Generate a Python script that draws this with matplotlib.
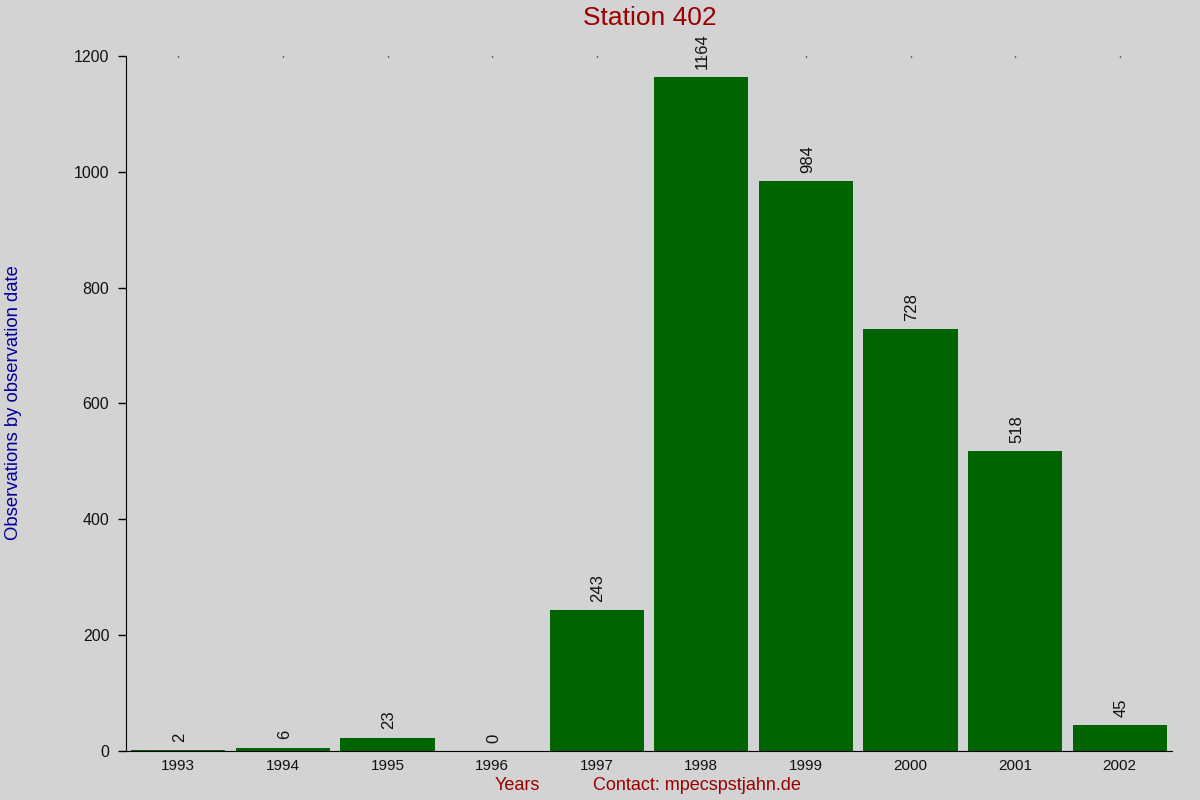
import numpy as np
import matplotlib
matplotlib.use("Agg")
from matplotlib import pyplot as plt

plt.rcParams['font.family'] = ['Liberation Sans', 'DejaVu Sans']

years = ['1993', '1994', '1995', '1996', '1997', '1998', '1999', '2000', '2001', '2002']
counts = [2, 6, 23, 0, 243, 1164, 984, 728, 518, 45]

bg = '#d3d3d3'
fig = plt.figure(figsize=(12, 8), dpi=100, facecolor=bg)
ax = fig.add_axes([0.105, 0.06125, 0.8717, 0.86875], facecolor=bg)

pos = np.arange(len(years))
bars = ax.bar(pos, counts, width=0.9, color='#006400')

# value labels, rotated, just above each bar
for b, v in zip(bars, counts):
    ax.annotate(str(v), (b.get_x() + b.get_width() / 2, v), xytext=(1, 6),
                textcoords='offset points', rotation=90, ha='center', va='bottom',
                fontsize=12, color='#111111')

ax.set_xlim(-0.5, 9.5)
ax.set_ylim(0, 1200)
ax.set_xticks(pos)
ax.set_xticklabels(years)
ax.set_yticks(np.arange(0, 1201, 200))

for s in ['top', 'right']:
    ax.spines[s].set_visible(False)
ax.tick_params(axis='y', direction='out', length=6, width=1, labelsize=11.5, pad=6, labelcolor='#111111')
ax.tick_params(axis='x', bottom=False, top=True, direction='in', length=1, width=1,
               labelsize=11, pad=6, labelcolor='#111111')

fig.text(0.5417, 0.978, 'Station 402', ha='center', va='center', fontsize=19, color='#990000')
fig.text(0.011, 0.497, 'Observations by observation date', rotation=90, ha='center', va='center',
         fontsize=13.3, color='#000099')
fig.text(0.431, 0.0175, 'Years', ha='center', va='center', fontsize=13, color='#990000')
fig.text(0.581, 0.0175, 'Contact: mpecspstjahn.de', ha='center', va='center', fontsize=13, color='#990000')

fig.savefig('out.png', dpi=100, facecolor=bg)
